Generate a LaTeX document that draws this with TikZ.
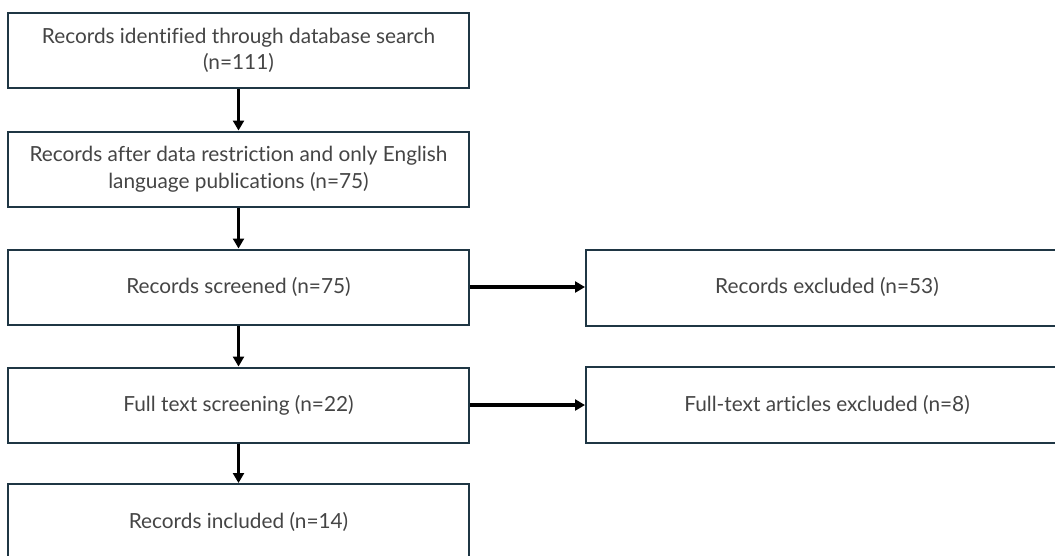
\documentclass[tikz,border=0pt]{standalone}
\usepackage{fontspec}
\setmainfont{Lato}[Ligatures=NoCommon]
\usetikzlibrary{arrows.meta}
\definecolor{boxline}{HTML}{1F3644}
\definecolor{txt}{HTML}{454545}
\tikzset{
  boxfont/.style={text=txt, font=\fontsize{20.8}{26.5}\selectfont},
  flowbox/.style={draw=boxline, line width=2pt, fill=white, minimum width=461pt, minimum height=75pt,
    inner sep=0pt, align=center, boxfont},
  sidebox/.style={flowbox, minimum width=474pt, minimum height=76pt},
  flowarrow/.style={draw=black, line width=3.2pt, -{Triangle[length=10pt,width=11pt]}}
}
\begin{document}
\begin{tikzpicture}[x=1pt,y=-1pt]
\useasboundingbox (0,0) rectangle (1055,555);
\clip (0,0) rectangle (1055,555);
\fill[white] (0,0) rectangle (1055,555);
\node[flowbox] (b1) at (238.5,50.5) {Records identified through database search\\(n=111)};
\node[flowbox] (b2) at (238.5,169) {Records after data restriction and only English\\language publications (n=75)};
\node[flowbox] (b3) at (238.5,287) {Records screened (n=75)};
\node[flowbox] (b4) at (238.5,405) {Full text screening (n=22)};
\node[flowbox, minimum height=76pt] (b5) at (238.5,522) {Records included (n=14)};
\node[sidebox] (r1) at (823,287.5) {};
\node[sidebox] (r2) at (823,405) {};
\node[boxfont] (t1) at (827,287) {Records excluded (n=53)};
\node[boxfont] (t2) at (827,405) {Full-text articles excluded (n=8)};
\draw[flowarrow] (b1.south) -- (b2.north);
\draw[flowarrow] (b2.south) -- (b3.north);
\draw[flowarrow] (b3.south) -- (b4.north);
\draw[flowarrow] (b4.south) -- (b5.north);
\draw[flowarrow] (b3.east) -- (b3.east -| r1.west);
\draw[flowarrow] (b4.east) -- (b4.east -| r2.west);
\end{tikzpicture}
\end{document}
